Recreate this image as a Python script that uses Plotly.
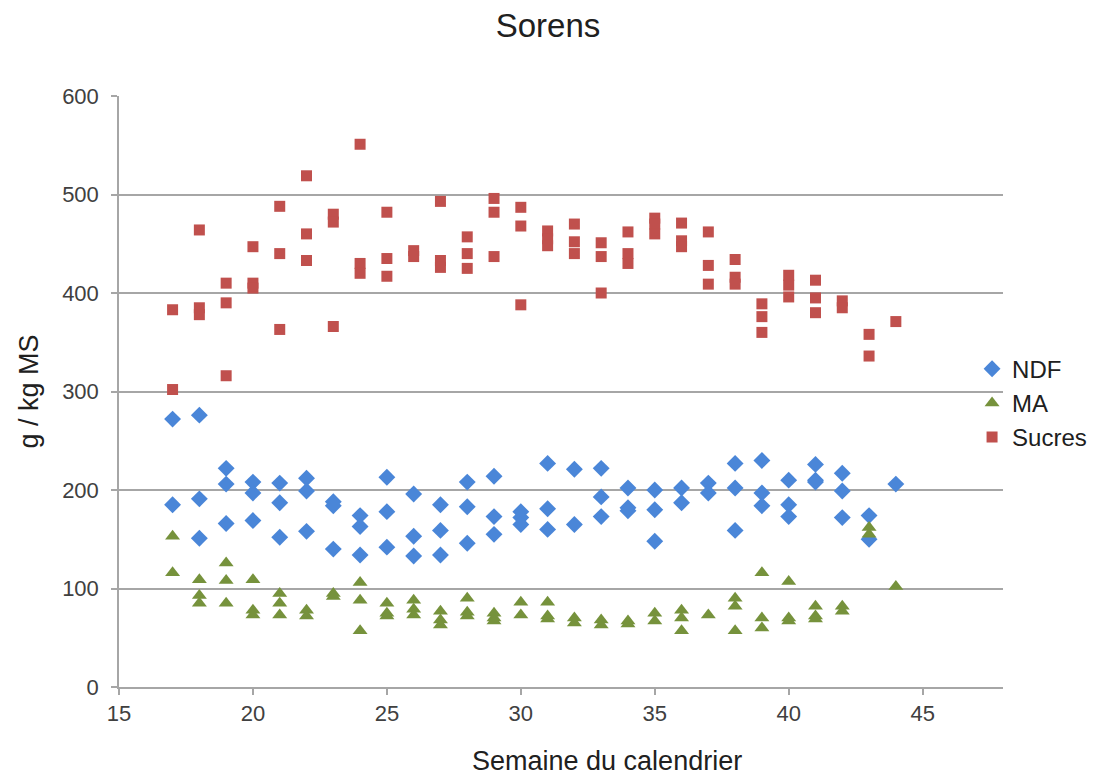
import plotly.graph_objects as go

# Semaine du calendrier / valeurs (g / kg MS)
ndf_week = [17, 17, 18, 18, 18, 19, 19, 19, 20, 20, 20, 21, 21, 21, 22, 22, 22,
            23, 23, 23, 24, 24, 24, 25, 25, 25, 26, 26, 26, 27, 27, 27, 28, 28, 28,
            29, 29, 29, 30, 30, 30, 31, 31, 31, 32, 32, 33, 33, 33, 34, 34, 34,
            35, 35, 35, 36, 36, 37, 37, 38, 38, 38, 39, 39, 39, 40, 40, 40,
            41, 41, 41, 42, 42, 42, 43, 43, 44]
ndf_val = [272, 185, 276, 191, 151, 222, 206, 166, 208, 197, 169, 207, 187, 152, 212, 199, 158,
           188, 184, 140, 174, 163, 134, 213, 178, 142, 196, 153, 133, 185, 159, 134, 208, 183, 146,
           214, 173, 155, 178, 172, 165, 227, 181, 160, 221, 165, 222, 193, 173, 202, 182, 179,
           200, 180, 148, 202, 187, 207, 197, 227, 202, 159, 230, 197, 184, 210, 185, 173,
           226, 210, 208, 217, 199, 172, 174, 150, 206]

ma_week = [17, 17, 18, 18, 18, 19, 19, 19, 20, 20, 20, 21, 21, 21, 22, 22, 23, 23,
           24, 24, 24, 25, 25, 25, 26, 26, 26, 27, 27, 27, 28, 28, 28, 29, 29, 29,
           30, 30, 31, 31, 31, 32, 32, 33, 33, 34, 34, 35, 35, 36, 36, 36, 37,
           38, 38, 38, 39, 39, 39, 40, 40, 40, 41, 41, 41, 42, 42, 43, 43, 44]
ma_val = [153, 116, 109, 93, 85, 126, 108, 85, 109, 78, 73, 95, 85, 73, 78, 72, 95, 92,
          106, 88, 57, 85, 75, 72, 88, 79, 73, 77, 68, 63, 90, 76, 72, 75, 70, 67,
          86, 73, 86, 72, 69, 70, 65, 68, 63, 67, 64, 75, 67, 78, 70, 57, 73,
          90, 82, 57, 116, 70, 60, 107, 70, 67, 82, 72, 69, 82, 77, 162, 155, 102]

sucres_week = [17, 17, 18, 18, 18, 19, 19, 19, 20, 20, 20, 21, 21, 21, 22, 22, 22,
               23, 23, 23, 24, 24, 24, 25, 25, 25, 26, 26, 27, 27, 27, 28, 28, 28,
               29, 29, 29, 30, 30, 30, 31, 31, 31, 32, 32, 32, 33, 33, 33, 34, 34, 34,
               35, 35, 35, 36, 36, 36, 37, 37, 37, 38, 38, 38, 39, 39, 39, 40, 40, 40,
               41, 41, 41, 42, 42, 43, 43, 44]
sucres_val = [383, 302, 385, 378, 464, 410, 390, 316, 447, 410, 405, 488, 440, 363, 519, 460, 433,
              480, 472, 366, 551, 430, 420, 482, 435, 417, 443, 437, 493, 433, 426, 457, 440, 425,
              496, 482, 437, 487, 468, 388, 463, 455, 448, 470, 452, 440, 451, 437, 400, 462, 440, 430,
              476, 470, 460, 471, 453, 447, 462, 428, 409, 434, 416, 409, 389, 376, 360, 418, 408, 396,
              413, 395, 380, 392, 385, 358, 336, 371]

x_ticks = [15, 20, 25, 30, 35, 40, 45]
y_ticks = [0, 100, 200, 300, 400, 500, 600]

FONT = "Liberation Sans, Arial, sans-serif"
TXT = "#404040"
GRID = "#a6a6a6"

fig = go.Figure()
fig.add_trace(go.Scatter(x=ndf_week, y=ndf_val, mode="markers", name="NDF",
                         marker=dict(symbol="diamond", size=13, color="#4A86D8")))
fig.add_trace(go.Scatter(x=ma_week, y=ma_val, mode="markers", name="MA",
                         marker=dict(symbol="triangle-up", size=13, color="#76923C")))
fig.add_trace(go.Scatter(x=sucres_week, y=sucres_val, mode="markers", name="Sucres",
                         marker=dict(symbol="square", size=11, color="#C0504D")))

fig.update_layout(
    width=1091, height=770,
    paper_bgcolor="white", plot_bgcolor="white",
    margin=dict(l=111, r=96, t=88, b=91, autoexpand=False),
    font=dict(family=FONT, color=TXT),
    title=dict(text="Sorens", x=0.495, xanchor="center", y=0.977, yanchor="middle",
               font=dict(size=33, color="#202020")),
    xaxis=dict(range=[15, 48], tickvals=x_ticks, showgrid=False, zeroline=False,
               showline=True, linecolor=GRID, linewidth=1.5,
               ticks="outside", ticklen=6, tickcolor=GRID, tickwidth=1.5,
               tickfont=dict(size=22, color=TXT)),
    yaxis=dict(range=[0, 600], tickvals=y_ticks, showgrid=True, gridcolor=GRID, gridwidth=1.5,
               zeroline=False, showline=True, linecolor=GRID, linewidth=1.5,
               ticks="outside", ticklen=6, tickcolor=GRID, tickwidth=1.5,
               ticklabelstandoff=8,
               tickfont=dict(size=22, color=TXT),
               title=dict(text="g / kg MS", font=dict(size=27, color="#202020"), standoff=16)),
    legend=dict(x=0.965, xanchor="left", y=0.576, yanchor="top",
                font=dict(size=24, color="#202020"), bgcolor="rgba(0,0,0,0)",
                itemwidth=30, tracegroupgap=0),
    showlegend=True,
)
fig.add_annotation(text="Semaine du calendrier", xref="paper", yref="paper",
                   x=0.552, y=-0.125, xanchor="center", yanchor="middle", showarrow=False,
                   font=dict(size=27, color="#202020"))

fig.write_html("out.html")
